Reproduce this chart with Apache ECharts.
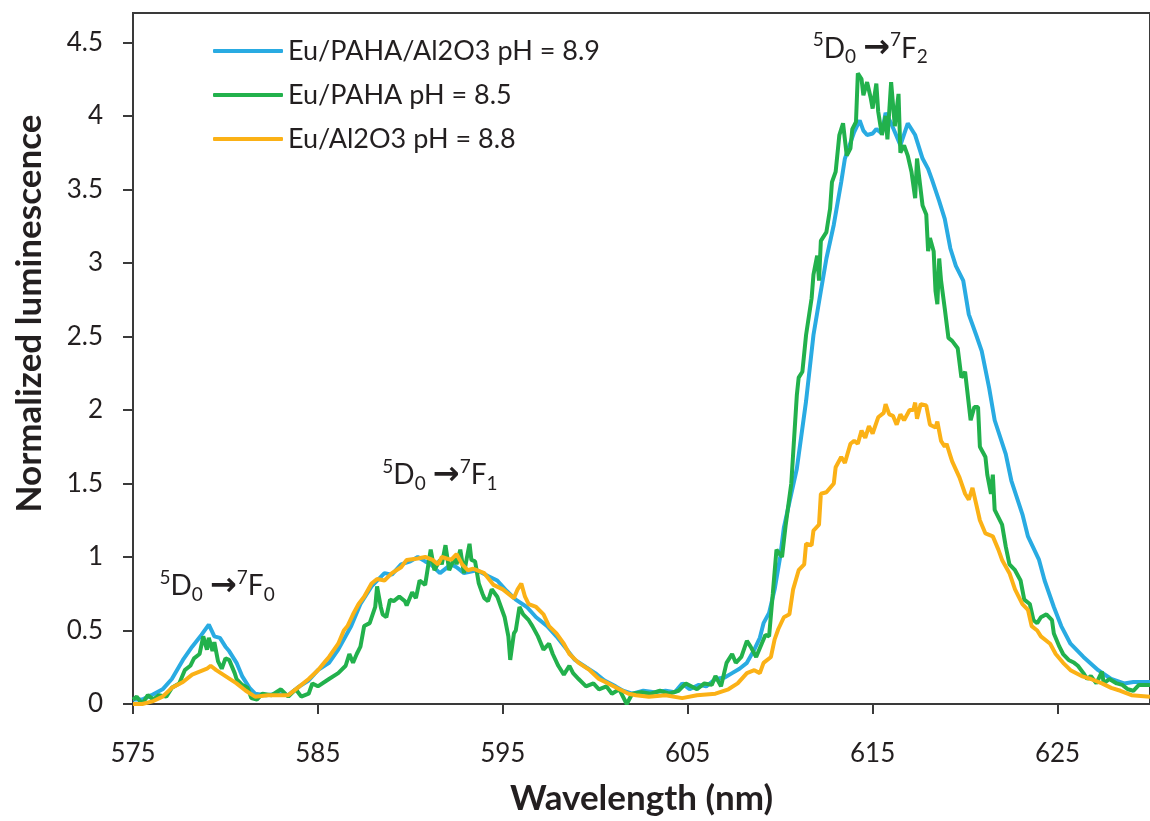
<!DOCTYPE html>
<html>
<head>
<meta charset="utf-8">
<script src="https://cdn.jsdelivr.net/npm/echarts@6/dist/echarts.min.js"></script>
<style>html,body{margin:0;padding:0;background:#fff;}#c{width:1150px;height:821px;}</style>
</head>
<body>
<div id="c"></div>
<script>
// ---------- data ----------
var seriesNames = ['Eu/PAHA/Al2O3 pH = 8.9', 'Eu/PAHA pH = 8.5', 'Eu/Al2O3 pH = 8.8'];
var xTicks = [575, 585, 595, 605, 615, 625];
var yTicks = [0, 0.5, 1, 1.5, 2, 2.5, 3, 3.5, 4, 4.5];

var wlBlue = [575.0,575.5,576.0,576.6,577.1,577.7,578.2,578.7,579.1,579.4,579.7,580.0,580.2,580.6,580.9,581.3,581.6,582.2,582.8,583.4,584.0,584.5,585.0,585.6,586.1,586.8,587.3,587.9,588.6,589.0,589.5,590.0,590.4,590.8,591.1,591.6,592.2,592.5,592.9,593.6,594.2,594.7,595.2,595.7,596.3,596.8,597.4,597.9,598.4,598.9,599.5,600.0,600.5,601.1,601.5,602.0,602.6,603.2,603.8,604.3,604.7,605.1,605.6,606.0,606.5,607.0,607.4,607.8,608.2,608.6,608.9,609.1,609.4,609.7,610.0,610.2,610.6,610.9,611.4,611.8,612.2,612.5,612.9,613.3,613.5,614.0,614.3,614.5,614.7,615.0,615.2,615.5,615.7,616.0,616.2,616.5,616.9,617.3,617.7,618.0,618.2,618.6,618.9,619.2,619.5,619.9,620.2,620.6,620.9,621.3,621.6,622.2,622.5,623.1,623.4,624.0,624.3,624.8,625.2,625.7,626.4,627.2,627.9,628.6,629.1,630.0];
var lumBlue = [0.03,0.03,0.06,0.10,0.17,0.30,0.39,0.47,0.54,0.46,0.45,0.39,0.36,0.28,0.19,0.11,0.07,0.06,0.07,0.06,0.12,0.16,0.23,0.28,0.37,0.53,0.68,0.80,0.89,0.88,0.95,0.97,1.00,0.97,0.95,0.89,0.95,0.93,0.89,0.91,0.87,0.84,0.77,0.71,0.66,0.59,0.53,0.46,0.38,0.30,0.25,0.21,0.16,0.12,0.09,0.07,0.09,0.08,0.09,0.08,0.14,0.10,0.13,0.12,0.17,0.18,0.21,0.24,0.28,0.37,0.45,0.55,0.62,0.78,1.00,1.20,1.43,1.60,2.06,2.51,2.81,3.03,3.26,3.55,3.71,3.89,3.97,3.90,3.87,3.88,3.91,3.88,4.02,3.95,3.89,3.80,3.95,3.87,3.71,3.64,3.57,3.42,3.30,3.10,2.98,2.88,2.65,2.51,2.40,2.15,1.93,1.70,1.52,1.29,1.14,0.98,0.84,0.66,0.53,0.41,0.32,0.23,0.17,0.14,0.15,0.15];

var wlGreen = [575.0,575.2,575.5,575.8,576.1,576.4,576.8,577.1,577.5,577.8,578.1,578.3,578.6,578.8,579.0,579.1,579.3,579.4,579.6,579.8,580.0,580.2,580.5,580.6,580.9,581.2,581.4,581.7,582.0,582.5,583.0,583.4,583.8,584.1,584.5,584.7,585.0,585.6,586.1,586.5,586.7,586.9,587.1,587.3,587.5,587.8,588.1,588.2,588.4,588.5,588.7,588.9,589.1,589.4,589.7,589.8,590.1,590.3,590.5,590.8,590.9,591.1,591.3,591.6,591.7,591.9,592.1,592.4,592.5,592.7,592.9,593.2,593.3,593.5,593.7,593.9,594.0,594.2,594.4,594.7,594.9,595.1,595.3,595.4,595.6,595.7,595.9,596.1,596.4,596.6,596.9,597.2,597.5,597.7,598.0,598.3,598.6,598.8,599.1,599.5,599.9,600.2,600.6,600.9,601.3,601.7,602.0,602.5,603.0,603.5,604.0,604.5,604.9,605.5,605.9,606.3,606.5,606.8,607.1,607.4,607.6,607.9,608.2,608.4,608.7,609.0,609.2,609.4,609.6,609.8,610.1,610.3,610.6,610.9,611.0,611.2,611.4,611.7,611.8,612.0,612.1,612.2,612.5,612.7,612.8,613.0,613.2,613.4,613.6,613.8,613.9,614.1,614.2,614.4,614.5,614.7,614.9,615.0,615.2,615.3,615.5,615.7,615.8,616.0,616.2,616.4,616.5,616.7,616.9,617.1,617.3,617.4,617.5,617.7,617.9,618.0,618.1,618.3,618.4,618.5,618.6,618.7,618.9,619.1,619.3,619.6,619.8,620.0,620.1,620.3,620.5,620.7,620.8,621.1,621.2,621.4,621.5,621.6,622.0,622.2,622.4,622.7,623.0,623.2,623.5,623.7,623.9,624.1,624.4,624.7,624.8,625.1,625.3,625.6,625.9,626.1,626.4,626.6,626.8,627.1,627.4,627.5,627.8,628.2,628.5,628.8,629.1,629.4,630.0];
var lumGreen = [0.03,0.05,0.00,0.06,0.03,0.06,0.05,0.11,0.14,0.23,0.26,0.31,0.34,0.46,0.37,0.45,0.36,0.42,0.29,0.24,0.31,0.30,0.21,0.17,0.13,0.11,0.04,0.03,0.07,0.06,0.10,0.05,0.10,0.05,0.07,0.14,0.12,0.17,0.21,0.26,0.34,0.28,0.34,0.39,0.53,0.55,0.66,0.80,0.66,0.61,0.59,0.71,0.70,0.73,0.70,0.67,0.76,0.72,0.84,0.81,0.89,1.05,0.91,0.98,0.95,1.08,0.91,1.00,0.95,1.05,0.89,1.09,0.98,0.97,0.82,0.75,0.72,0.70,0.78,0.73,0.66,0.59,0.46,0.30,0.48,0.50,0.66,0.61,0.57,0.53,0.46,0.37,0.41,0.34,0.26,0.20,0.26,0.21,0.17,0.12,0.14,0.10,0.12,0.07,0.10,0.00,0.07,0.08,0.07,0.09,0.07,0.09,0.14,0.10,0.14,0.13,0.19,0.12,0.28,0.34,0.28,0.32,0.43,0.39,0.32,0.41,0.47,0.46,0.75,1.05,1.00,1.22,1.50,2.10,2.22,2.26,2.51,2.76,2.92,3.05,2.88,3.15,3.21,3.37,3.55,3.62,3.87,3.95,3.73,3.78,3.91,3.96,4.29,4.25,4.14,4.23,4.12,4.05,4.22,4.03,3.87,4.00,3.84,4.23,3.93,4.15,3.75,3.80,3.73,3.62,3.44,3.71,3.60,3.39,3.33,3.08,3.17,3.08,2.81,2.72,3.03,2.88,2.69,2.49,2.47,2.42,2.22,2.26,2.15,1.93,2.02,2.02,1.75,1.68,1.56,1.43,1.56,1.32,1.22,1.07,0.95,0.91,0.84,0.71,0.68,0.57,0.55,0.59,0.61,0.57,0.48,0.39,0.34,0.30,0.28,0.26,0.21,0.17,0.19,0.14,0.22,0.14,0.17,0.14,0.13,0.10,0.09,0.13,0.13];

var wlOrange = [575.0,575.5,576.1,576.6,577.1,577.7,578.2,578.8,579.0,579.2,579.5,580.0,580.6,581.1,581.6,582.3,582.9,583.4,583.9,584.5,585.0,585.4,585.6,586.1,586.4,586.6,586.9,587.2,587.5,587.9,588.2,588.6,589.0,589.5,589.8,590.4,590.8,591.2,591.5,591.7,592.2,592.5,592.8,593.1,593.4,594.0,594.5,595.0,595.6,595.8,596.0,596.2,596.4,596.8,597.2,597.5,597.9,598.3,598.6,599.1,599.7,600.2,600.7,601.3,601.8,602.2,602.9,603.8,604.7,605.5,606.5,607.2,607.7,608.2,608.6,608.9,609.1,609.5,609.7,609.9,610.2,610.5,610.7,611.0,611.3,611.4,611.7,611.8,612.1,612.2,612.5,612.9,613.0,613.3,613.5,613.8,614.0,614.2,614.4,614.6,614.8,615.0,615.3,615.6,615.7,615.9,616.1,616.3,616.5,616.7,617.0,617.2,617.3,617.4,617.6,617.9,618.1,618.4,618.5,618.7,618.9,619.0,619.2,619.3,619.7,620.0,620.2,620.4,620.6,620.8,621.1,621.5,621.8,622.0,622.4,622.7,623.1,623.4,623.6,623.9,624.1,624.6,624.9,625.3,625.7,626.3,626.8,627.4,627.9,628.4,629.0,630.0];
var lumOrange = [0.00,0.00,0.02,0.05,0.11,0.15,0.20,0.23,0.24,0.26,0.23,0.19,0.14,0.09,0.05,0.06,0.06,0.06,0.11,0.17,0.23,0.29,0.32,0.41,0.50,0.53,0.61,0.68,0.73,0.82,0.85,0.84,0.89,0.93,0.98,0.99,1.00,0.98,0.95,1.00,0.98,1.02,0.95,0.91,0.92,0.89,0.81,0.78,0.72,0.78,0.82,0.73,0.68,0.66,0.61,0.53,0.48,0.41,0.34,0.28,0.23,0.17,0.14,0.10,0.07,0.06,0.05,0.06,0.04,0.06,0.07,0.10,0.14,0.21,0.23,0.21,0.28,0.32,0.44,0.51,0.59,0.61,0.78,0.91,0.95,1.09,1.08,1.18,1.22,1.43,1.44,1.50,1.61,1.68,1.64,1.77,1.79,1.77,1.86,1.81,1.89,1.84,1.95,1.98,2.04,1.97,1.96,1.90,1.97,1.93,2.00,2.00,2.05,1.94,2.04,2.03,1.90,1.88,1.92,1.79,1.75,1.77,1.69,1.65,1.54,1.43,1.39,1.47,1.36,1.25,1.16,1.14,1.05,0.98,0.89,0.78,0.68,0.64,0.53,0.50,0.46,0.41,0.34,0.28,0.23,0.19,0.17,0.14,0.11,0.09,0.06,0.05];

// transition labels (centre of each label, in data units)
var transitions = [
  {x: 579.55, y: 0.80, f: '0'},
  {x: 591.6,  y: 1.556, f: '1'},
  {x: 614.87, y: 4.456, f: '2'}
];

// ---------- chart ----------
function zip(xs, ys) { return xs.map(function (x, i) { return [x, ys[i]]; }); }
var FONT = 'Lato, "Open Sans", sans-serif';
var TXT = '#231f20';
var AX = '#3a3a3a';
var colors = ['#29ABE2', '#22B14C', '#FBB116'];

var chart = echarts.init(document.getElementById('c'), null, {renderer: 'canvas'});
var option = {
  animation: false,
  color: colors,
  textStyle: {fontFamily: FONT, color: TXT},
  grid: {left: 133, top: 13, right: -9, bottom: 113, show: true, borderColor: AX, borderWidth: 2, backgroundColor: 'transparent'},
  legend: {
    orient: 'vertical', left: 213, top: 36, itemWidth: 70, itemHeight: 4, itemGap: 14,
    icon: 'roundRect', padding: 0,
    textStyle: {fontFamily: FONT, fontSize: 27, color: TXT, lineHeight: 30},
    data: seriesNames
  },
  xAxis: {
    type: 'value', min: 575, max: 630,
    name: 'Wavelength (nm)', nameLocation: 'middle', nameGap: 77,
    nameTextStyle: {fontFamily: FONT, fontSize: 35, fontWeight: 'bold', color: TXT},
    axisLine: {show: true, onZero: false, lineStyle: {color: AX, width: 2}},
    axisTick: {show: true, length: 10, inside: false, customValues: xTicks, lineStyle: {color: AX, width: 2}},
    axisLabel: {customValues: xTicks, margin: 37, fontSize: 26, color: TXT, fontFamily: FONT},
    splitLine: {show: false}
  },
  yAxis: {
    type: 'value', min: 0, max: 4.7,
    name: 'Normalized luminescence', nameLocation: 'middle', nameGap: 86,
    nameTextStyle: {fontFamily: FONT, fontSize: 35, fontWeight: 'bold', color: TXT, padding: [0, 0, 0, 90]},
    axisLine: {show: true, lineStyle: {color: AX, width: 2}},
    axisTick: {show: true, length: 10, customValues: yTicks, lineStyle: {color: AX, width: 2}},
    axisLabel: {customValues: yTicks, margin: 30, fontSize: 26, color: TXT, fontFamily: FONT},
    splitLine: {show: false}
  },
  series: [
    {name: seriesNames[0], type: 'line', data: zip(wlBlue, lumBlue), showSymbol: false, lineStyle: {width: 4, color: colors[0]}, z: 2},
    {name: seriesNames[1], type: 'line', data: zip(wlGreen, lumGreen), showSymbol: false, lineStyle: {width: 4, color: colors[1]}, z: 3},
    {name: seriesNames[2], type: 'line', data: zip(wlOrange, lumOrange), showSymbol: false, lineStyle: {width: 4, color: colors[2]}, z: 4,
     markPoint: {
       symbol: 'circle', symbolSize: 0, silent: true,
       data: transitions.map(function (t) {
         return {coord: [t.x, t.y], value: t.f,
           label: {show: true, position: 'inside',
             formatter: '{sup|5}{m|D}{sub|0}{m| }{ar|→}{sup|7}{m|F}{sub|' + t.f + '}',
             rich: {
               m: {fontFamily: FONT, fontSize: 28, color: TXT, lineHeight: 36},
               ar: {fontFamily: 'DejaVu Sans', fontSize: 32, fontWeight: 'bold', color: TXT, lineHeight: 36},
               sup: {fontFamily: FONT, fontSize: 19, color: TXT, lineHeight: 18, verticalAlign: 'top'},
               sub: {fontFamily: FONT, fontSize: 19, color: TXT, lineHeight: 18, verticalAlign: 'bottom'}
             }}};
       })
     }}
  ]
};
chart.setOption(option);
</script>
</body>
</html>
